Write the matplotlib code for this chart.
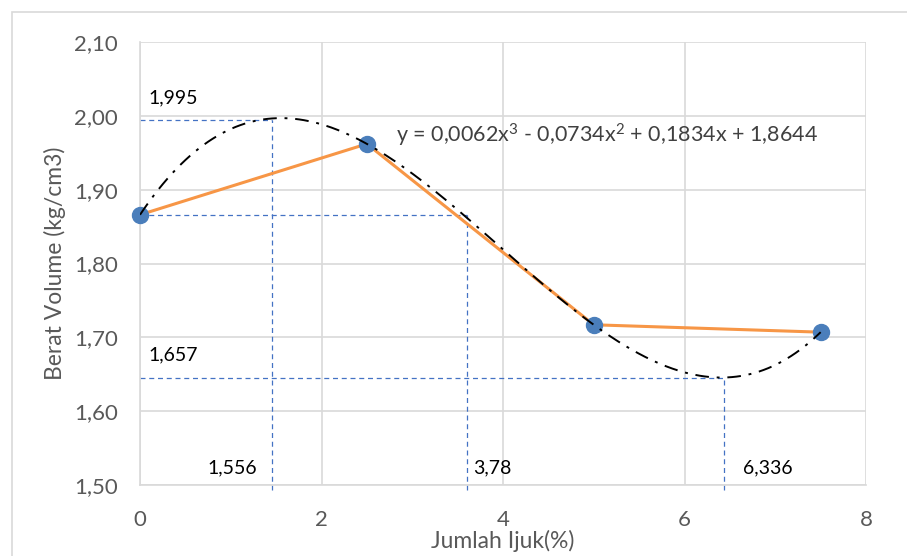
import numpy as np
import matplotlib
matplotlib.use('agg')
import matplotlib.pyplot as plt
from matplotlib.patches import Rectangle

# data
ijuk = [0, 2.5, 5, 7.5]
berat = [1.866, 1.962, 1.717, 1.707]

# helper guide lines (as drawn in the picture)
guide_x = [1.45, 3.60, 6.43]
guide_y = [1.995, 1.866, 1.645]
guide_x_labels = ['1,556', '3,78', '6,336']
guide_y_labels = ['1,995', '', '1,657']
equation = r'y = 0,0062x$^{3}$ - 0,0734x$^{2}$ + 0,1834x + 1,8644'

plt.rcParams['font.family'] = ['Lato', 'DejaVu Sans']
plt.rcParams['mathtext.fontset'] = 'custom'
plt.rcParams['mathtext.rm'] = 'Lato'
plt.rcParams['mathtext.it'] = 'Lato'
plt.rcParams['mathtext.default'] = 'regular'

fig = plt.figure(figsize=(9.07, 5.56), dpi=100)
fig.patches.append(Rectangle((12/907, -0.1), 1.1, 1 - 12/556 + 0.1, transform=fig.transFigure,
                             fill=False, edgecolor='#d9d9d9', linewidth=1.2))
ax = fig.add_axes([140/907, 1 - 485/556, 726/907, 443/556])

ax.set_xlim(0, 8)
ax.set_ylim(1.5, 2.1)
ax.set_xticks(np.arange(0, 9, 2))
yt = np.arange(1.5, 2.11, 0.1)
ax.set_yticks(yt)
ax.set_yticklabels([f'{v:.2f}'.replace('.', ',') for v in yt])
ax.grid(True, color='#d9d9d9', linewidth=1.2)
ax.set_axisbelow(True)
for s in ['top', 'right']:
    ax.spines[s].set_visible(False)
for s in ['left', 'bottom']:
    ax.spines[s].set_color('#d9d9d9')
    ax.spines[s].set_linewidth(1.2)
ax.tick_params(length=0, labelsize=16, labelcolor='#595959')
ax.tick_params(axis='x', pad=18)
ax.tick_params(axis='y', pad=16)

# guide lines
c_guide = '#4472C4'
for gx, gy in zip(guide_x, guide_y):
    ax.plot([0, gx], [gy, gy], '--', color=c_guide, lw=0.9, dashes=(4, 3))
    ax.plot([gx, gx], [1.493, gy], '--', color=c_guide, lw=0.9, dashes=(4, 3), clip_on=False)

# data series
ax.plot(ijuk, berat, color='#F79646', lw=2.2, zorder=3)
ax.plot(ijuk, berat, 'o', color='#4A7EBB', ms=11.5, zorder=4, clip_on=False)

# polynomial trendline
coef = np.polyfit(ijuk, berat, 3)
xs = np.linspace(ijuk[0], ijuk[-1], 300)
ax.plot(xs, np.polyval(coef, xs), color='black', lw=1.4, dashes=(7, 4, 1.5, 4), zorder=5)

# texts
ax.text(0.09, 2.024, guide_y_labels[0], fontsize=14, color='black', va='center')
ax.text(0.09, 1.676, guide_y_labels[2], fontsize=14, color='black', va='center')
ax.text(1.29, 1.523, guide_x_labels[0], fontsize=14, ha='right', va='center')
ax.text(3.67, 1.523, guide_x_labels[1], fontsize=14, ha='left', va='center')
ax.text(6.64, 1.523, guide_x_labels[2], fontsize=14, ha='left', va='center')
ax.text(2.82, 1.974, equation, fontsize=15.5, color='#404040', va='center')

ax.set_xlabel('Jumlah Ijuk(%)', fontsize=16.5, color='#595959', labelpad=0)
ax.set_ylabel('Berat Volume (kg/cm3)', fontsize=16.5, color='#595959', labelpad=6)

fig.savefig('out.png', dpi=100)
